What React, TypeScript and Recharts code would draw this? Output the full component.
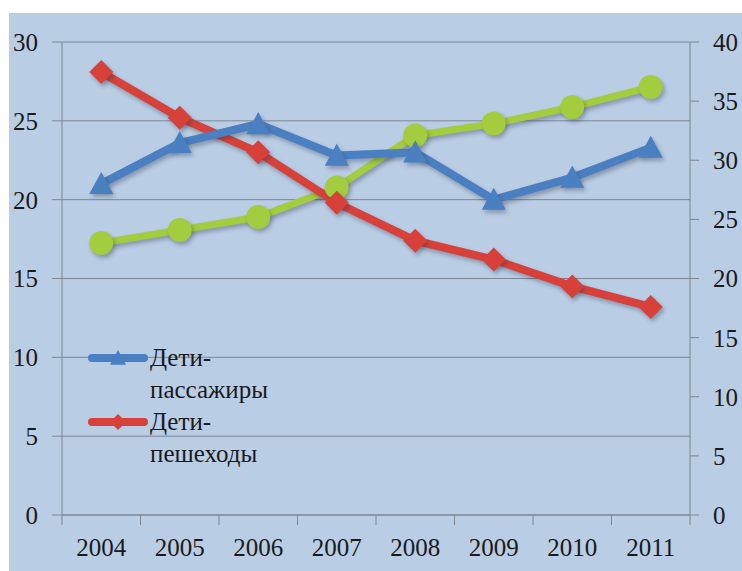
import { ComposedChart, Line, XAxis, YAxis, CartesianGrid } from 'recharts';

const years = ['2004', '2005', '2006', '2007', '2008', '2009', '2010', '2011'];
const passengers = [21.0, 23.6, 24.8, 22.8, 23.0, 20.0, 21.4, 23.3];
const pedestrians = [28.1, 25.2, 23.0, 19.8, 17.4, 16.2, 14.5, 13.2];
const others = [23.0, 24.1, 25.2, 27.7, 32.1, 33.1, 34.5, 36.2];
const leftTicks = [0, 5, 10, 15, 20, 25, 30];
const rightTicks = [0, 5, 10, 15, 20, 25, 30, 35, 40];

const BLUE = '#4a7fc1';
const RED = '#d8413a';
const GREEN = '#a3cc3f';
const BG = '#b9cde5';
const GRID = '#7d8796';
const FONT = 'Liberation Serif, Times New Roman, Tinos, Noto Serif, FreeSerif, DejaVu Serif, serif';

const data = years.map((year, i) => ({
    year,
    passengers: passengers[i],
    pedestrians: pedestrians[i],
    others: others[i],
}));

const legendItems = [
    { name: 'Дети-пассажиры', color: BLUE, marker: 'triangle' },
    { name: 'Дети-пешеходы', color: RED, marker: 'diamond' },
];

function Triangle({ cx, cy, fill, size = 12 }: any) {
    if (cx == null || cy == null) return null;
    return (
        <polygon
            points={`${cx},${cy - size} ${cx + size},${cy + size * 0.85} ${cx - size},${cy + size * 0.85}`}
            fill={fill}
        />
    );
}

function Diamond({ cx, cy, fill, size = 12 }: any) {
    if (cx == null || cy == null) return null;
    return (
        <polygon
            points={`${cx},${cy - size} ${cx + size},${cy} ${cx},${cy + size} ${cx - size},${cy}`}
            fill={fill}
        />
    );
}

function XTick(props: any) {
    const { x, y, payload, index, visibleTicksCount, width } = props;
    const half = payload?.offset || width / visibleTicksCount / 2;
    const top = y - 10;
    return (
        <g>
            <line x1={x - half} x2={x - half} y1={top} y2={top + 10} stroke={GRID} />
            {index === visibleTicksCount - 1 && (
                <line x1={x + half} x2={x + half} y1={top} y2={top + 10} stroke={GRID} />
            )}
            <text x={x} y={top + 41} textAnchor="middle" fontSize={25} fontFamily={FONT} fill="#1a1a1a">
                {payload.value}
            </text>
        </g>
    );
}

function ChartLegend() {
    return (
        <div style={{ position: 'absolute', left: 86, top: 342, fontFamily: FONT, fontSize: 25, color: '#1a1a1a' }}>
            {legendItems.map((item) => (
                <div key={item.name} style={{ display: 'flex', alignItems: 'flex-start' }}>
                    <svg width={64} height={32} style={{ flexShrink: 0 }}>
                        <line x1={6} x2={58} y1={16} y2={16} stroke={item.color} strokeWidth={8} strokeLinecap="round" />
                        {item.marker === 'triangle'
                            ? <Triangle cx={32} cy={16} fill={item.color} size={8} />
                            : <Diamond cx={32} cy={16} fill={item.color} size={8} />}
                    </svg>
                    <div style={{ width: 125, lineHeight: '32px' }}>{item.name}</div>
                </div>
            ))}
        </div>
    );
}

const shadow = { filter: 'drop-shadow(2px 3px 2px rgba(40, 50, 70, 0.35))' };

export default function App() {
    return (
        <div style={{ position: 'absolute', left: 0, top: 0, width: 742, height: 571, background: '#fff' }}>
            <div style={{ position: 'absolute', left: 9, top: 13, width: 733, height: 558, background: BG }} />
            <div style={{ position: 'absolute', left: 0, top: 0 }}>
                <ComposedChart
                    width={742}
                    height={571}
                    data={data}
                    margin={{ top: 42, right: 0, left: 12, bottom: 16 }}
                >
                    <CartesianGrid horizontal vertical={false} stroke={GRID} yAxisId="left" />
                    <XAxis
                        dataKey="year"
                        scale="band"
                        height={40}
                        axisLine={{ stroke: GRID }}
                        tickLine={false}
                        tickSize={10}
                        tickMargin={0}
                        tick={<XTick />}
                        interval={0}
                    />
                    <YAxis
                        yAxisId="left"
                        domain={[0, 30]}
                        ticks={leftTicks}
                        width={50}
                        axisLine={{ stroke: GRID }}
                        tickLine={{ stroke: GRID }}
                        tickSize={10}
                        tickMargin={14}
                        tick={{ fontSize: 25, fontFamily: FONT, fill: '#1a1a1a' }}
                    />
                    <YAxis
                        yAxisId="right"
                        orientation="right"
                        domain={[0, 40]}
                        ticks={rightTicks}
                        width={52}
                        axisLine={{ stroke: GRID }}
                        tickLine={{ stroke: GRID }}
                        tickSize={9}
                        tickMargin={14}
                        tick={{ fontSize: 25, fontFamily: FONT, fill: '#1a1a1a', textAnchor: 'start' }}
                    />
                    <Line
                        yAxisId="right"
                        dataKey="others"
                        name="Прочие"
                        stroke={GREEN}
                        strokeWidth={7}
                        style={shadow}
                        dot={(p: any) => <circle key={p.index} cx={p.cx} cy={p.cy} r={12} fill={GREEN} style={shadow} />}
                        isAnimationActive={false}
                    />
                    <Line
                        yAxisId="left"
                        dataKey="pedestrians"
                        name="Дети-пешеходы"
                        stroke={RED}
                        strokeWidth={8}
                        style={shadow}
                        dot={(p: any) => (
                            <g key={p.index} style={shadow}>
                                <Diamond cx={p.cx} cy={p.cy} fill={RED} size={12} />
                            </g>
                        )}
                        isAnimationActive={false}
                    />
                    <Line
                        yAxisId="left"
                        dataKey="passengers"
                        name="Дети-пассажиры"
                        stroke={BLUE}
                        strokeWidth={8}
                        style={shadow}
                        dot={(p: any) => (
                            <g key={p.index} style={shadow}>
                                <Triangle cx={p.cx} cy={p.cy} fill={BLUE} size={12} />
                            </g>
                        )}
                        isAnimationActive={false}
                    />
                </ComposedChart>
            </div>
            <ChartLegend />
        </div>
    );
}
